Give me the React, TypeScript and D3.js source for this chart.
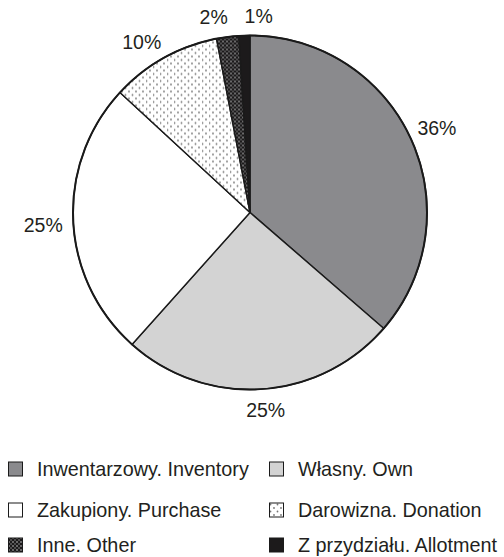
import React, { useRef, useEffect } from 'react';
import * as d3 from 'd3';

const categories = [
  'Inwentarzowy. Inventory',
  'Własny. Own',
  'Zakupiony. Purchase',
  'Darowizna. Donation',
  'Inne. Other',
  'Z przydziału. Allotment',
];
const values = [36, 25, 25, 10, 2, 1];
const percentLabels = ['36%', '25%', '25%', '10%', '2%', '1%'];

const fills = ['#8a8a8d', '#d3d3d3', '#ffffff', 'url(#dots)', 'url(#dense)', '#1c1a1b'];
// hand nudges for the percent labels, as in the original layout
const labelNudge = [[5, -1], [3, -2], [-7, 3], [-11, 4], [-11, 3], [15, 4]];

export default function App() {
  const svgRef = useRef<SVGSVGElement>(null);
  const width = 504;
  const height = 557;

  useEffect(() => {
    const svg = d3.select(svgRef.current);
    svg.selectAll('*').remove();

    const font = 'Liberation Sans, Arial, sans-serif';
    const cx = 250;
    const cy = 212.5;
    const radius = 177;

    const defs = svg.append('defs');
    const dots = defs.append('pattern')
      .attr('id', 'dots')
      .attr('patternUnits', 'userSpaceOnUse')
      .attr('width', 7)
      .attr('height', 7);
    dots.append('rect').attr('width', 7).attr('height', 7).attr('fill', '#fff');
    dots.append('circle').attr('cx', 1.5).attr('cy', 1.5).attr('r', 0.9).attr('fill', '#777');
    dots.append('circle').attr('cx', 5).attr('cy', 5).attr('r', 0.9).attr('fill', '#777');

    const dense = defs.append('pattern')
      .attr('id', 'dense')
      .attr('patternUnits', 'userSpaceOnUse')
      .attr('width', 4)
      .attr('height', 4);
    dense.append('rect').attr('width', 4).attr('height', 4).attr('fill', '#1c1a1b');
    dense.append('circle').attr('cx', 1).attr('cy', 1).attr('r', 0.75).attr('fill', '#ddd');
    dense.append('circle').attr('cx', 3).attr('cy', 3).attr('r', 0.75).attr('fill', '#999');

    const pie = d3.pie<number>().sort(null).value(d => d);
    const arcs = pie(values);
    const arc = d3.arc<d3.PieArcDatum<number>>().innerRadius(0).outerRadius(radius);
    const labelArc = d3.arc<d3.PieArcDatum<number>>().innerRadius(200).outerRadius(200);

    const g = svg.append('g').attr('transform', `translate(${cx},${cy})`);

    g.selectAll('path.slice')
      .data(arcs)
      .join('path')
      .attr('class', 'slice')
      .attr('d', arc)
      .attr('fill', (d, i) => fills[i])
      .attr('stroke', '#1a1a1a')
      .attr('stroke-width', 1.4)
      .attr('stroke-linejoin', 'round');

    g.append('circle')
      .attr('r', radius)
      .attr('fill', 'none')
      .attr('stroke', '#1a1a1a')
      .attr('stroke-width', 2);

    g.selectAll('text.pct')
      .data(arcs)
      .join('text')
      .attr('class', 'pct')
      .attr('x', (d, i) => labelArc.centroid(d)[0] + labelNudge[i][0])
      .attr('y', (d, i) => labelArc.centroid(d)[1] + labelNudge[i][1])
      .attr('dy', '0.35em')
      .attr('text-anchor', 'middle')
      .attr('font-family', font)
      .attr('font-size', 19.5)
      .attr('fill', '#231f20')
      .text((d, i) => percentLabels[i]);

    // Legend, two columns
    const colX = [8, 269];
    const rowY = [469, 510, 545];
    const legend = svg.append('g');
    const items = legend.selectAll('g')
      .data(categories)
      .join('g')
      .attr('transform', (d, i) => `translate(${colX[i % 2]},${rowY[Math.floor(i / 2)]})`);

    items.append('rect')
      .attr('x', 0.5)
      .attr('y', -7)
      .attr('width', 14)
      .attr('height', 14)
      .attr('fill', (d, i) => fills[i])
      .attr('stroke', '#1a1a1a')
      .attr('stroke-width', 1);

    items.append('text')
      .attr('x', 29)
      .attr('dy', '0.35em')
      .attr('font-family', font)
      .attr('font-size', 19.8)
      .attr('fill', '#231f20')
      .text(d => d);
  }, []);

  return (
    <svg
      ref={svgRef}
      width={width}
      height={height}
      style={{ position: 'absolute', left: 0, top: 0, background: '#fff' }}
    />
  );
}
